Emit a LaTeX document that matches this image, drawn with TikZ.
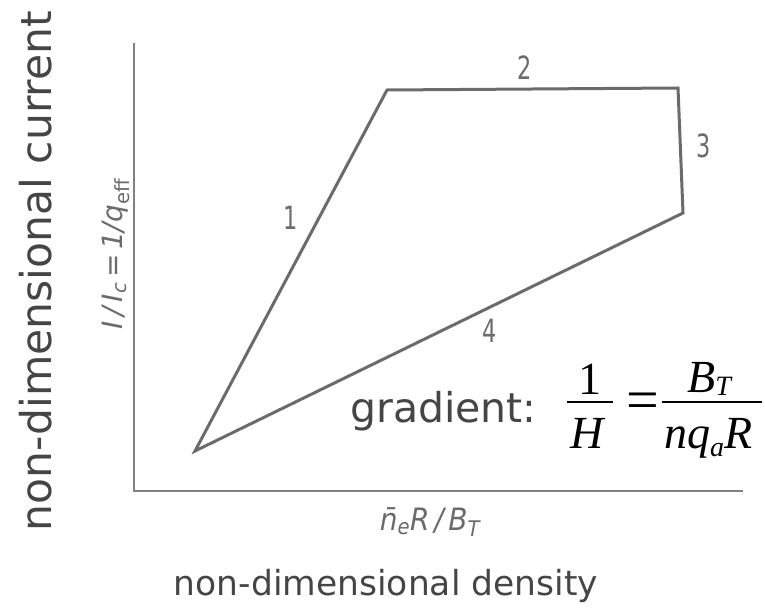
\documentclass[tikz,border=0pt]{standalone}
\usepackage{fontspec}
\setmainfont{DejaVu Sans}
\newfontfamily\fracfont{Liberation Serif}
\usetikzlibrary{positioning}
\definecolor{plotgray}{gray}{0.42}
\definecolor{textgray}{gray}{0.27}
\tikzset{
  edge/.style   ={draw=plotgray, line width=3pt, line join=miter},
  axisline/.style={draw=plotgray!85, line width=2pt},
  seglabel/.style={text=plotgray, xscale=0.7, font=\fontsize{32}{32}\selectfont},
  axlabel/.style={text=plotgray, font=\fontsize{28}{28}\selectfont\itshape},
  bigtext/.style={text=textgray, inner sep=0pt},
  fracpart/.style={text=black, inner sep=0pt,
                   font=\fontsize{46}{46}\selectfont\fracfont\itshape},
  fracbar/.style={draw=black, line width=2.4pt},
}
\newcommand{\lowsub}[2]{\raisebox{#1}{\fontsize{28}{28}\selectfont #2}}

\begin{document}
\begin{tikzpicture}[x=1pt, y=-1pt]
\useasboundingbox (0,0) rectangle (765,610);

% axes
\coordinate (ytop) at (134,43);
\coordinate (orig) at (134,491);
\coordinate (xend) at (743,491);
\draw[axisline] (ytop) -- (orig) -- (xend);

% corners of the cycle
\coordinate (c0) at (195,451);
\coordinate (c1) at (387,90);
\coordinate (c2) at (678,88);
\coordinate (c3) at (683,213);
\draw[edge] (c0) -- (c1) -- (c2) -- (c3) -- cycle;

\node[seglabel] (n1) at (291,218) {1};
\node[seglabel] (n2) at (525,68)  {2};
\node[seglabel] (n3) at (704,146) {3};
\node[seglabel] (n4) at (490,331) {4};

\node[axlabel, rotate=90] (ylab) at (116,254)
  {I\,/\,I\textsubscript{c}\,=\,1/q\textsubscript{\upshape eff}};
\node[axlabel, yscale=1.1] (xlab) at (430,522)
  {\=n\textsubscript{e}R\,/\,B\textsubscript{T}};

\node[bigtext, rotate=90, anchor=base,
      font=\fontsize{42.5}{42.5}\selectfont] (ycap) at (51,271) {non-dimensional current};
\node[bigtext, anchor=base,
      font=\fontsize{34.5}{34.5}\selectfont] (xcap) at (386,595) {non-dimensional density};

% gradient of line 4
\node[bigtext, anchor=base west,
      font=\fontsize{41}{41}\selectfont] (grad) at (350,422) {gradient:};

\node[fracpart, anchor=base] (one) at (590,394) {\upshape 1};
\node[fracpart, anchor=base] (H)   at (587,448) {H};
\node[fracpart, anchor=center, font=\fontsize{58}{58}\selectfont\fracfont]
  (eq) at (643,406) {=};
\node[fracpart, anchor=base west] (BT)  at (687,392) {B\lowsub{-3pt}{T}};
\node[fracpart, anchor=base west] (nqR) at (664,448) {nq\lowsub{-8pt}{a}R};

\coordinate (bar1l) at (567,402);
\coordinate (bar1r) at (613,402);
\coordinate (bar2l) at (662,402);
\coordinate (bar2r) at (762,402);
\draw[fracbar] (bar1l) -- (bar1r);
\draw[fracbar] (bar2l) -- (bar2r);

\end{tikzpicture}
\end{document}
